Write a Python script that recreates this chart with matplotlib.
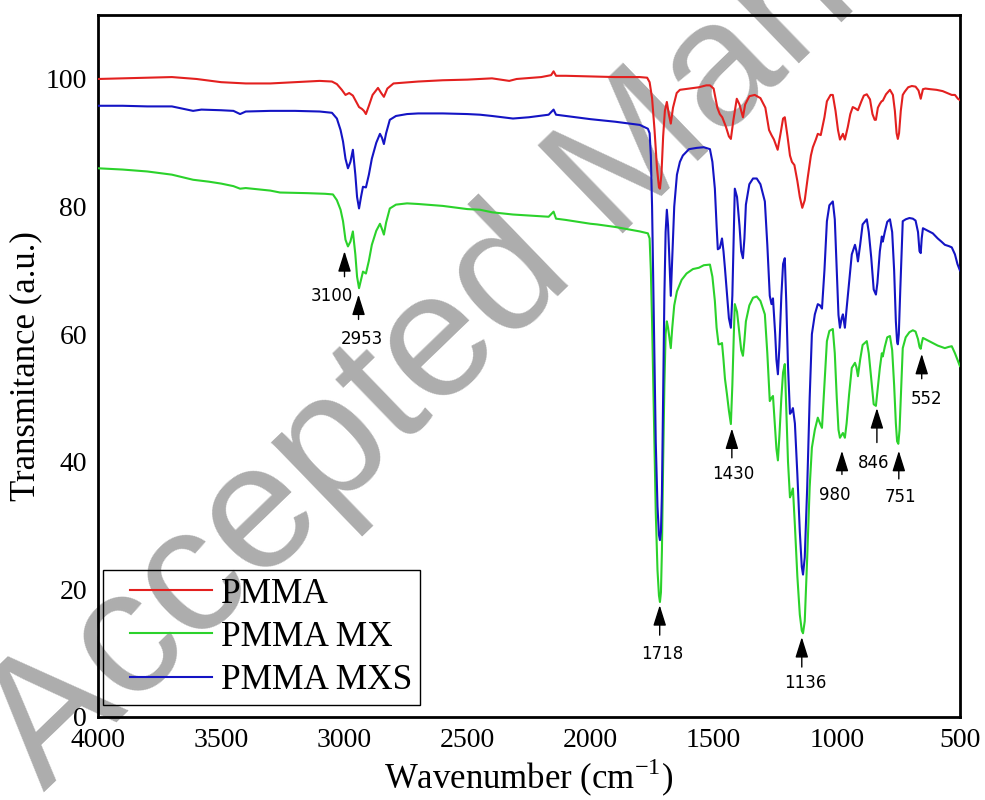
import matplotlib
matplotlib.use("Agg")
import matplotlib.pyplot as plt
from matplotlib.legend_handler import HandlerLine2D

# ---------------- data ----------------
pmma_w = [4000, 3900, 3800, 3700, 3600, 3500, 3400, 3300, 3200, 3100, 3050, 3030, 3010, 2995, 2980,
          2965, 2950, 2940, 2928, 2920, 2912, 2900, 2885, 2863, 2850, 2839, 2825, 2800, 2700, 2600,
          2500, 2400, 2330, 2300, 2200, 2160, 2150, 2140, 2100, 2000, 1900, 1800, 1770, 1760, 1750,
          1740, 1730, 1722, 1718, 1712, 1705, 1698, 1690, 1682, 1674, 1665, 1650, 1637, 1600, 1560,
          1530, 1515, 1500, 1495, 1485, 1475, 1465, 1450, 1438, 1430, 1420, 1406, 1395, 1381, 1372,
          1355, 1333, 1310, 1290, 1275, 1265, 1255, 1240, 1228, 1218, 1211, 1200, 1190, 1182, 1172,
          1160, 1150, 1140, 1130, 1118, 1105, 1097, 1085, 1077, 1065, 1050, 1040, 1025, 1016, 1005,
          995, 987, 980, 975, 967, 955, 945, 935, 925, 914, 900, 890, 878, 865, 855, 846, 841, 833,
          825, 818, 813, 800, 784, 772, 764, 757, 752, 747, 740, 732, 724, 710, 695, 680, 668, 659,
          650, 640, 620, 595, 570, 545, 533, 520, 508, 500]
pmma_t = [100.0, 100.1, 100.2, 100.3, 100.0, 99.5, 99.3, 99.3, 99.5, 99.7, 99.6, 99.2, 98.3, 97.5, 97.8,
          97.4, 96.3, 95.6, 95.3, 95.0, 94.5, 95.8, 97.5, 98.6, 97.8, 97.2, 98.5, 99.3, 99.6, 99.8,
          99.9, 100.1, 99.7, 100.0, 100.3, 100.6, 101.2, 100.5, 100.5, 100.4, 100.3, 100.3, 100.2, 99.5, 97.0,
          92.0, 86.0, 83.0, 82.8, 85.0, 91.0, 95.0, 96.4, 94.5, 93.0, 95.5, 97.8, 98.3, 98.5, 98.7,
          99.0, 99.0, 98.5, 97.5, 95.5, 94.5, 94.0, 92.5, 91.0, 90.6, 93.5, 96.9, 96.0, 94.0, 96.0,
          97.3, 97.5, 97.0, 95.5, 92.0, 91.2, 90.5, 88.9, 91.5, 93.8, 94.0, 91.0, 88.0, 87.0, 86.5,
          84.0, 81.5, 79.8, 81.0, 84.5, 88.0, 89.3, 90.5, 91.4, 91.2, 94.0, 96.5, 97.5, 97.5, 95.0,
          92.0, 90.5, 91.0, 91.4, 90.5, 92.5, 94.5, 95.6, 95.4, 95.1, 96.5, 97.4, 97.6, 96.8, 94.5, 93.6, 93.6, 95.5,
          96.1, 96.5, 96.6, 97.6, 98.3, 97.5, 95.0, 91.5, 90.6, 91.5, 95.0, 97.5, 98.0, 98.7, 98.9, 98.8, 98.2, 96.9,
          98.4, 98.5, 98.4, 98.3, 98.1, 97.7, 97.5, 97.5, 96.9, 96.7]

mxs_w = [4000, 3900, 3800, 3700, 3650, 3614, 3580, 3500, 3450, 3423, 3400, 3300, 3200, 3100, 3050,
         3030, 3015, 3005, 2995, 2985, 2975, 2965, 2955, 2948, 2940, 2932, 2924, 2912, 2900, 2888,
         2870, 2855, 2847, 2839, 2830, 2815, 2790, 2745, 2700, 2600, 2500, 2449, 2400, 2315, 2250,
         2170, 2150, 2140, 2100, 2000, 1974, 1900, 1800, 1767, 1760, 1755, 1750, 1745, 1740, 1735,
         1728, 1722, 1718, 1714, 1710, 1705, 1700, 1695, 1690, 1685, 1680, 1674, 1668, 1660, 1649,
         1637, 1625, 1600, 1568, 1540, 1515, 1505, 1495, 1488, 1483, 1475, 1466, 1460, 1454, 1445,
         1438, 1430, 1424, 1418, 1414, 1405, 1395, 1388, 1381, 1375, 1369, 1355, 1340, 1325, 1310,
         1292, 1282, 1272, 1265, 1259, 1250, 1245, 1239, 1233, 1225, 1218, 1211, 1205, 1198, 1190,
         1184, 1178, 1170, 1160, 1150, 1142, 1137, 1130, 1120, 1110, 1101, 1089, 1077, 1068, 1060,
         1050, 1040, 1030, 1016, 1008, 1000, 993, 987, 980, 975, 967, 960, 950, 939, 926, 920, 914,
         905, 895, 878, 870, 860, 850, 841, 835, 825, 817, 813, 805, 795, 784, 775, 767, 760, 755,
         752, 748, 742, 732, 720, 705, 691, 680, 670, 664, 659, 655, 650, 630, 610, 590, 575, 561,
         545, 533, 520, 510, 500]
mxs_t = [95.8, 95.8, 95.7, 95.7, 95.3, 95.0, 95.2, 95.1, 95.0, 94.5, 94.9, 95.0, 95.0, 94.9, 94.7,
         93.8, 92.0, 90.2, 87.5, 86.0, 87.0, 88.9, 85.0, 81.5, 79.7, 81.5, 83.1, 83.0, 85.0, 87.5,
         90.0, 91.4, 90.8, 89.8, 91.5, 93.6, 94.2, 94.5, 94.6, 94.6, 94.5, 94.4, 94.2, 93.8, 94.0,
         94.4, 95.2, 94.4, 94.2, 93.7, 93.6, 93.3, 92.8, 92.2, 91.5, 88.0, 80.0, 68.0, 55.0, 43.0,
         33.0, 28.5, 27.7, 29.0, 35.0, 50.0, 66.0, 76.0, 79.5, 77.0, 72.0, 66.0, 72.0, 80.0, 85.0,
         87.0, 88.0, 89.0, 89.2, 89.3, 89.0, 87.0, 82.8, 77.0, 73.3, 73.5, 75.0, 73.0, 70.3, 66.0,
         62.5, 61.0, 66.0, 76.0, 82.8, 81.5, 77.0, 73.0, 71.9, 75.0, 80.3, 83.5, 84.4, 84.4, 83.5,
         80.8, 74.0, 66.0, 64.7, 65.6, 60.0, 56.0, 53.7, 58.0, 66.0, 71.0, 71.9, 65.0, 55.0, 47.5,
         47.8, 48.4, 46.0, 38.0, 29.0, 23.5, 22.3, 25.0, 36.0, 50.0, 60.0, 63.1, 64.7, 64.5, 64.0,
         70.0, 77.7, 80.2, 80.8, 78.0, 70.0, 63.0, 61.0, 62.5, 63.1, 61.0, 64.0, 68.0, 72.5, 74.0, 73.0, 71.4,
         74.0, 77.2, 78.0, 76.0, 72.0, 67.0, 66.2, 68.0, 73.0, 75.3, 74.5, 76.0, 77.6, 78.0, 76.0, 70.0, 62.0, 58.8,
         58.4, 60.0, 67.0, 77.7, 78.0, 78.2, 78.1, 77.8, 76.0, 73.0, 72.7, 75.0, 76.6, 76.2, 75.8, 75.0, 74.5, 74.0,
         73.8, 73.6, 72.5, 71.0, 70.0]

mx_w = [4000, 3900, 3800, 3700, 3614, 3550, 3500, 3450, 3423, 3400, 3300, 3261, 3150, 3078, 3046,
        3030, 3015, 3005, 2995, 2985, 2975, 2965, 2955, 2948, 2940, 2932, 2924, 2912, 2900, 2888,
        2870, 2855, 2847, 2839, 2830, 2815, 2790, 2745, 2700, 2600, 2500, 2449, 2400, 2315, 2250,
        2170, 2150, 2140, 2100, 2000, 1974, 1900, 1800, 1767, 1760, 1755, 1750, 1745, 1740, 1735,
        1728, 1722, 1718, 1714, 1710, 1705, 1700, 1695, 1690, 1685, 1680, 1674, 1668, 1660, 1649,
        1630, 1610, 1584, 1560, 1540, 1515, 1505, 1495, 1488, 1480, 1475, 1466, 1460, 1454, 1446,
        1438, 1430, 1424, 1418, 1414, 1405, 1395, 1388, 1381, 1375, 1369, 1355, 1340, 1325, 1310,
        1292, 1282, 1272, 1265, 1259, 1250, 1245, 1239, 1233, 1225, 1218, 1211, 1205, 1198, 1190,
        1184, 1178, 1170, 1160, 1150, 1142, 1137, 1130, 1120, 1110, 1101, 1089, 1077, 1068, 1060,
        1050, 1040, 1030, 1016, 1008, 1000, 993, 987, 980, 975, 967, 960, 950, 939, 926, 920, 914,
        905, 895, 878, 870, 860, 850, 841, 835, 825, 817, 813, 805, 795, 784, 775, 767, 760, 755,
        750, 745, 740, 732, 720, 705, 691, 680, 670, 664, 659, 655, 650, 630, 610, 590, 575, 561,
        545, 533, 520, 510, 500]
mx_t = [86.0, 85.8, 85.5, 85.0, 84.2, 83.9, 83.6, 83.2, 82.8, 82.9, 82.5, 82.2, 82.1, 82.0, 81.9,
        81.0, 79.5, 77.7, 74.8, 73.75, 74.5, 76.1, 72.5, 69.0, 67.2, 68.5, 69.8, 69.5, 71.5, 74.0,
        76.2, 77.3, 76.5, 75.6, 77.5, 79.7, 80.3, 80.5, 80.4, 80.1, 79.6, 79.5, 79.1, 78.75, 78.6,
        78.4, 79.2, 78.1, 77.9, 77.3, 77.2, 76.8, 76.1, 75.8, 75.0, 70.0, 62.0, 52.0, 42.0, 32.0,
        23.0, 19.0, 18.0, 19.5, 26.0, 40.0, 52.0, 60.0, 62.0, 61.0, 59.5, 57.8, 61.0, 64.5, 66.7,
        68.5, 69.5, 70.2, 70.4, 70.8, 70.9, 69.0, 65.2, 61.0, 58.4, 58.4, 58.6, 56.0, 53.0, 50.6,
        48.0, 45.9, 52.0, 60.0, 64.7, 63.5, 60.0, 57.5, 56.6, 59.0, 62.0, 64.5, 65.7, 65.9, 65.2,
        63.1, 57.0, 49.5, 50.0, 50.3, 45.0, 42.0, 40.2, 44.0, 50.0, 54.0, 55.3, 48.0, 40.0, 34.4,
        35.0, 35.8, 30.0, 22.0, 16.0, 13.5, 13.1, 15.0, 25.0, 36.0, 42.2, 45.0, 46.9, 46.0, 45.3,
        52.0, 58.9, 60.5, 60.8, 57.0, 50.0, 45.0, 43.75, 44.2, 44.5, 43.75, 46.0, 50.5, 54.7, 55.5, 54.8, 53.4,
        56.0, 58.3, 58.9, 57.0, 53.0, 49.0, 48.75, 51.0, 54.7, 57.0, 56.5, 58.0, 59.5, 59.7, 57.5, 52.0, 46.0, 43.2,
        42.8, 45.0, 50.0, 57.8, 59.5, 60.3, 60.6, 60.4, 59.2, 58.0, 57.7, 58.6, 59.4, 59.0, 58.6, 58.2, 58.0, 57.8,
        58.0, 58.1, 57.0, 56.0, 55.0]

series_names = ["PMMA", "PMMA MX", "PMMA MXS"]
series_colors = ["#e3201f", "#2bd22b", "#1414c4"]

peak_labels = ["3100", "2953", "1718", "1430", "1136", "980", "846", "751", "552"]
arrow_x = [2999, 2942, 1719, 1426, 1142, 979, 837, 748, 655]
arrow_tip = [73.0, 66.2, 17.5, 45.2, 12.5, 41.7, 48.4, 41.7, 56.9]
arrow_tail = [69.0, 62.3, 12.8, 40.6, 7.8, 38.0, 43.0, 37.3, 53.0]
label_x = [3051, 2930, 1707, 1422, 1126, 1007, 849, 740, 634]
label_y = [66.0, 59.2, 9.8, 38.0, 5.3, 34.7, 39.8, 34.4, 49.8]

x_ticks = [4000, 3500, 3000, 2500, 2000, 1500, 1000, 500]
y_ticks = [0, 20, 40, 60, 80, 100]

# ---------------- figure ----------------
fig = plt.figure(figsize=(9.85, 8.0), dpi=100)
ax = fig.add_axes([0.0995, 0.104, 0.875, 0.877])
ax.patch.set_alpha(0)

serif = "Liberation Serif"

l1, = ax.plot(pmma_w, pmma_t, color=series_colors[0], lw=1.5, label=series_names[0], zorder=3)
l2, = ax.plot(mx_w, mx_t, color=series_colors[1], lw=1.5, label=series_names[1], zorder=3)
l3, = ax.plot(mxs_w, mxs_t, color=series_colors[2], lw=1.5, label=series_names[2], zorder=4)

ax.set_xlim(4000, 500)
ax.set_ylim(0, 110)
ax.set_xticks(x_ticks)
ax.set_yticks(y_ticks)
ax.tick_params(length=0, labelsize=20, pad=8)
for lab in ax.get_xticklabels() + ax.get_yticklabels():
    lab.set_fontfamily(serif)
for s in ax.spines.values():
    s.set_linewidth(2)
    s.set_color("black")

ax.set_xlabel("Wavenumber (cm$^{\\mathregular{-1}}$)", fontsize=25, fontfamily=serif, labelpad=3)
ax.set_ylabel("Transmitance (a.u.)", fontsize=25, fontfamily=serif, labelpad=2)

for lab, ax_x, tip, tail, lx, ly in zip(peak_labels, arrow_x, arrow_tip, arrow_tail, label_x, label_y):
    ax.annotate("", xy=(ax_x, tip), xytext=(ax_x, tail),
                arrowprops=dict(arrowstyle="-|>,head_length=0.7,head_width=0.22", color="black",
                                lw=1, mutation_scale=18, shrinkA=0, shrinkB=0), zorder=5)
    ax.text(lx, ly, lab, fontsize=12, fontfamily="DejaVu Sans", ha="center", va="center", zorder=5)

hmap = {l: HandlerLine2D(xpad=0.53) for l in (l1, l2, l3)}
leg = ax.legend(loc="lower left", bbox_to_anchor=(0.006, 0.017), borderaxespad=0,
                prop={"family": serif, "size": 25.5}, frameon=True, fancybox=False,
                edgecolor="black", framealpha=1, borderpad=0.22, labelspacing=0.29,
                handlelength=2.84, handletextpad=0.26, handler_map=hmap)
leg.get_frame().set_linewidth(1.0)
leg.get_frame().set_facecolor("none")

# watermark
fig.text(0.045, 0.01, "Accepted Manuscript", fontsize=128, color="#adadad",
         fontfamily="Liberation Sans", rotation=44, rotation_mode="anchor",
         ha="left", va="baseline", zorder=-1)

fig.savefig("out.png", dpi=100)
